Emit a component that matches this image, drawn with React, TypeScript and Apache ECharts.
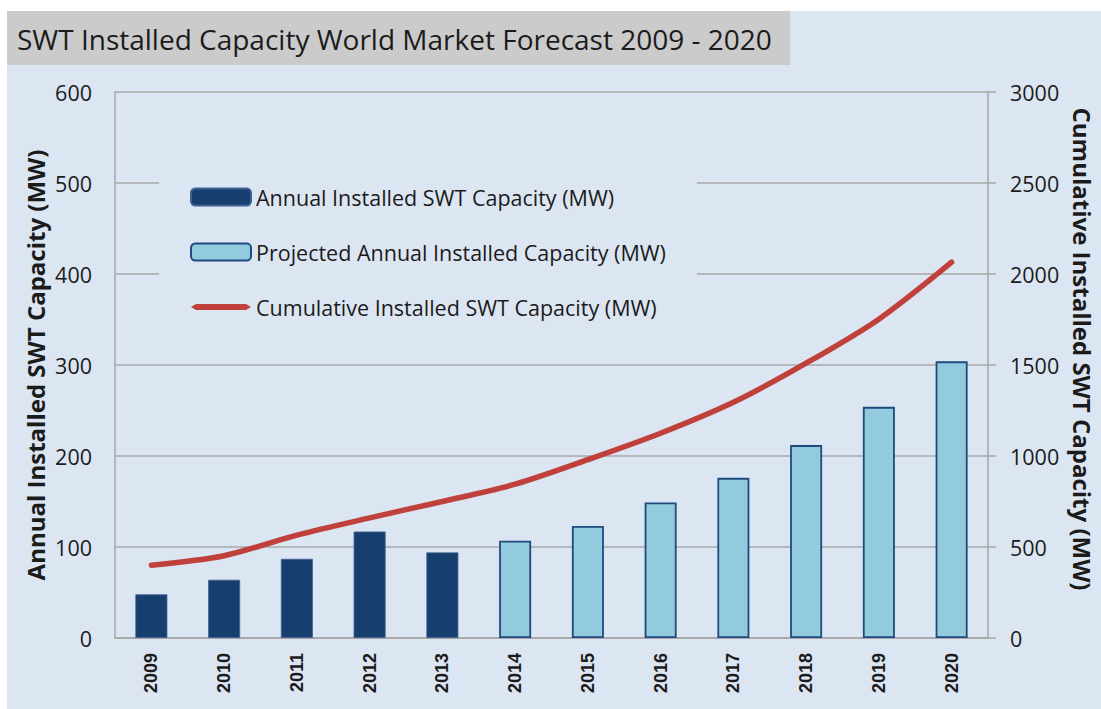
import React, { useEffect, useRef } from "react";
import * as echarts from "echarts";

const years = ["2009", "2010", "2011", "2012", "2013", "2014", "2015", "2016", "2017", "2018", "2019", "2020"];
const annualInstalled = [48, 64, 87, 117, 94, null, null, null, null, null, null, null];
const projectedAnnual = [null, null, null, null, null, 107, 123, 149, 176, 212, 254, 304];
const cumulative = [400, 452, 565, 660, 750, 845, 980, 1125, 1295, 1510, 1752, 2065];
const leftTicks = { min: 0, max: 600, interval: 100 };
const rightTicks = { min: 0, max: 3000, interval: 500 };

const titleText = "SWT Installed Capacity World Market Forecast 2009 - 2020";
const nameAnnual = "Annual Installed SWT Capacity (MW)";
const nameProjected = "Projected Annual Installed Capacity (MW)";
const nameCumulative = "Cumulative Installed SWT Capacity (MW)";
const leftAxisName = "Annual Installed SWT Capacity (MW)";
const rightAxisName = "Cumulative Installed SWT Capacity (MW)";

const FONT = "'Open Sans', Lato, sans-serif";
const TXT = "#1b1b1b";
const GRIDC = "#a9a9a9";
const RED = "#c0403c";

export default function App() {
  const ref = useRef<HTMLDivElement>(null);
  useEffect(() => {
    if (!ref.current) return;
    const chart = echarts.init(ref.current, null, { renderer: "svg" });
    chart.setOption({
      animation: false,
      backgroundColor: "#ffffff",
      textStyle: { fontFamily: FONT },
      graphic: [
        { type: "rect", z: -10, shape: { x: 7, y: 11, width: 1094, height: 698 }, style: { fill: "#dce6f2" }, silent: true },
        { type: "rect", z: -9, shape: { x: 7, y: 11, width: 783, height: 54 }, style: { fill: "#cbcbcb" }, silent: true },
        {
          type: "text", x: 17, y: 39,
          style: { text: titleText, fill: TXT, font: `28px ${FONT}`, align: "left", verticalAlign: "middle" },
        },
        {
          type: "text", x: 35, y: 365, rotation: Math.PI / 2,
          style: { text: leftAxisName, fill: TXT, font: `bold 24px ${FONT}`, align: "center", verticalAlign: "middle" },
        },
        {
          type: "text", x: 1082, y: 349, rotation: -Math.PI / 2,
          style: { text: rightAxisName, fill: TXT, font: `bold 24px ${FONT}`, align: "center", verticalAlign: "middle" },
        },
      ],
      grid: { left: 115, right: 113, top: 92, bottom: 71, containLabel: false },
      legend: {
        left: 159,
        top: 166,
        orient: "vertical",
        padding: [20, 31, 20, 31],
        backgroundColor: "#dce6f2",
        itemWidth: 60,
        itemHeight: 17,
        itemGap: 33,
        textStyle: { fontFamily: FONT, fontSize: 21.5, color: TXT },
        data: [
          nameAnnual,
          nameProjected,
          { name: nameCumulative, icon: "path://M0,3 L5,0 L55,0 L60,3 L55,6 L5,6 Z" },
        ],
        z: 5,
      },
      xAxis: {
        type: "category",
        data: years,
        boundaryGap: true,
        axisLine: { show: true, lineStyle: { color: GRIDC, width: 2 } },
        axisTick: { show: false },
        axisLabel: { rotate: 90, margin: 15, fontFamily: "'Liberation Sans', Arial, sans-serif", fontWeight: "bold", fontSize: 18, color: TXT },
        splitLine: { show: false },
      },
      yAxis: [
        {
          type: "value",
          ...leftTicks,
          position: "left",
          axisLine: { show: true, lineStyle: { color: GRIDC, width: 1.5 } },
          axisTick: { show: false },
          axisLabel: { margin: 23, fontSize: 21.5, color: TXT, fontFamily: FONT },
          splitLine: { show: true, lineStyle: { color: GRIDC, width: 1.5 } },
        },
        {
          type: "value",
          ...rightTicks,
          position: "right",
          axisLine: { show: true, lineStyle: { color: GRIDC, width: 1.5 } },
          axisTick: { show: true, inside: false, length: 8, lineStyle: { color: GRIDC, width: 1.5 } },
          axisLabel: { margin: 22, fontSize: 21.5, color: TXT, fontFamily: FONT, formatter: (v: number) => String(v) },
          splitLine: { show: false },
        },
      ],
      series: [
        {
          name: nameAnnual,
          type: "bar",
          data: annualInstalled,
          barWidth: 32,
          barGap: "-100%",
          itemStyle: { color: "#163f6f", borderColor: "#3f6391", borderWidth: 0.8 },
          z: 2,
        },
        {
          name: nameProjected,
          type: "bar",
          data: projectedAnnual,
          barWidth: 32,
          barGap: "-100%",
          itemStyle: { color: "#92cbdd", borderColor: "#1f4a7e", borderWidth: 1.8 },
          z: 2,
        },
        {
          name: nameCumulative,
          type: "line",
          yAxisIndex: 1,
          data: cumulative,
          smooth: 0.3,
          symbol: "none",
          lineStyle: { color: RED, width: 5.5, cap: "round" },
          itemStyle: { color: RED },
          z: 3,
        },
      ],
    });
    return () => chart.dispose();
  }, []);
  return <div ref={ref} style={{ position: "fixed", left: 0, top: 0, width: 1101, height: 709 }} />;
}
